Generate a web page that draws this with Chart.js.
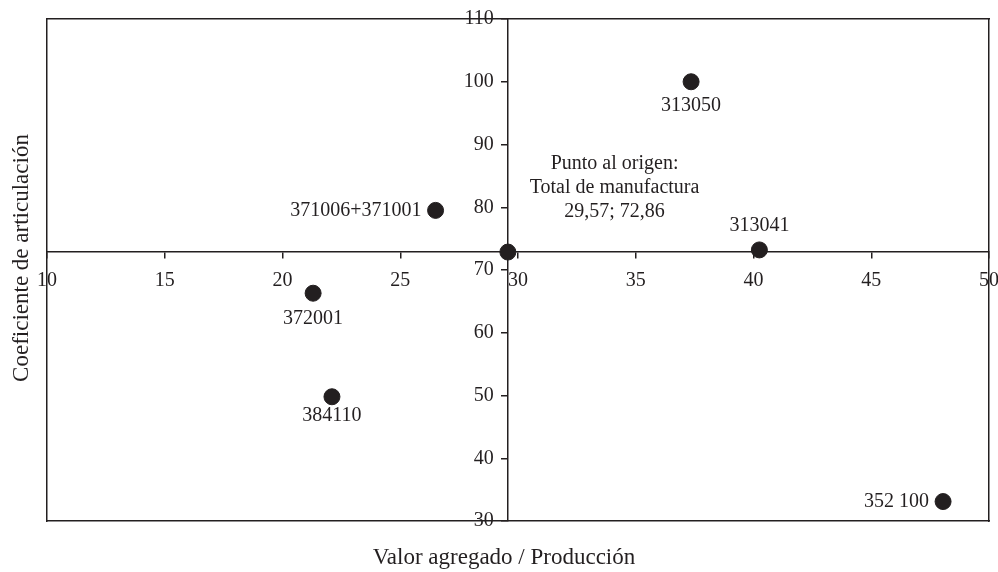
<!DOCTYPE html>
<html><head><meta charset="utf-8">
<script src="https://cdn.jsdelivr.net/npm/chart.js@4.4.0/dist/chart.umd.min.js"></script>
<style>html,body{margin:0;padding:0;background:#fff;}#wrap{width:998px;height:572px;position:relative;}</style>
</head><body><div id="wrap"><canvas id="c"></canvas></div>
<script>
// ---- data ----
const codes   = ['313050', '371006+371001', '313041', '372001', '384110', '352 100', ''];
const xValues = [37.35, 26.5, 40.25, 21.3, 22.1, 48.05, 29.57];
const yValues = [100, 79.5, 73.2, 66.3, 49.8, 33.1, 72.86];
const xTicks  = [10, 15, 20, 25, 30, 35, 40, 45, 50];
const yTicks  = [30, 40, 50, 60, 70, 80, 90, 100, 110];
const originX = 29.57;
const originY = 72.86;
const originNote = ['Punto al origen:', 'Total de manufactura', '29,57; 72,86'];
const noteAt = {x: 34.1, y: 83.1};
const xTitle = 'Valor agregado / Producción';
const yTitle = 'Coeficiente de articulación';
// label placement (style, not data)
const labelPlace = [['below', 24], ['left', 14], ['above', 24], ['below', 26], ['below', 19], ['left', 14], null];

const INK = '#231f20';
const FONT = '"Liberation Serif", "Times New Roman", serif';

const points = xValues.map((x, i) => ({x, y: yValues[i]}));

const labelPlugin = {
  id: 'labels',
  afterDatasetsDraw(chart) {
    const {ctx, scales: {x, y}, chartArea} = chart;
    ctx.save();
    ctx.fillStyle = INK;
    ctx.font = '20px ' + FONT;
    points.forEach((p, i) => {
      const pl = labelPlace[i];
      if (!pl || !codes[i]) return;
      const px = x.getPixelForValue(p.x), py = y.getPixelForValue(p.y);
      if (pl[0] === 'below') { ctx.textAlign = 'center'; ctx.textBaseline = 'middle'; ctx.fillText(codes[i], px, py + pl[1]); }
      else if (pl[0] === 'above') { ctx.textAlign = 'center'; ctx.textBaseline = 'middle'; ctx.fillText(codes[i], px, py - pl[1]); }
      else if (pl[0] === 'left') { ctx.textAlign = 'right'; ctx.textBaseline = 'middle'; ctx.fillText(codes[i], px - pl[1], py); }
    });
    // origin note
    const nx = x.getPixelForValue(noteAt.x), ny = y.getPixelForValue(noteAt.y);
    ctx.textAlign = 'center'; ctx.textBaseline = 'middle';
    originNote.forEach((t, k) => ctx.fillText(t, nx, ny + (k - 1) * 24));
    // axis titles
    ctx.font = '23px ' + FONT;
    ctx.fillText(xTitle, (chartArea.left + chartArea.right) / 2 - 14, 558);
    ctx.translate(22, (chartArea.top + chartArea.bottom) / 2 - 12);
    ctx.rotate(-Math.PI / 2);
    ctx.fillText(yTitle, 0, 0);
    ctx.restore();
  }
};

const dummy = (axis, position, size) => ({
  type: 'linear', axis, position,
  ticks: {display: false}, grid: {display: false},
  border: {display: true, color: INK, width: 1.5},
  afterFit(s) { if (axis === 'x') s.height = size; else s.width = size; s.paddingLeft = s.paddingRight = s.paddingTop = s.paddingBottom = 0; }
});

const shiftLabels = (dx) => function (s) {
  const orig = Object.getPrototypeOf(s)._computeLabelItems;
  s._computeLabelItems = function (ca) {
    const items = orig.call(this, ca);
    items.forEach(it => { it.options.translation[0] += dx; });
    return items;
  };
};

new Chart(document.getElementById('c'), {
  type: 'scatter',
  data: {datasets: [{
    data: points,
    backgroundColor: INK, borderColor: INK,
    pointRadius: 8, pointHoverRadius: 8
  }]},
  plugins: [labelPlugin],
  options: {
    responsive: true, maintainAspectRatio: false, animation: false,
    layout: {padding: 0},
    plugins: {legend: {display: false}, tooltip: {enabled: false}},
    scales: {
      x: {
        type: 'linear', min: xTicks[0], max: xTicks[xTicks.length - 1],
        position: {y: originY},
        afterBuildTicks(s) { s.ticks = xTicks.map(v => ({value: v})); },
        afterFit(s) { s.paddingLeft = 0; s.paddingRight = 0; },
        ticks: {color: INK, font: {family: FONT, size: 20}, padding: 11, maxRotation: 0, autoSkip: false},
        grid: {display: true, drawOnChartArea: false, drawTicks: true, tickLength: 6, color: INK, tickColor: INK, lineWidth: 1.5},
        border: {display: true, color: INK, width: 1.5}
      },
      y: {
        type: 'linear', min: yTicks[0], max: yTicks[yTicks.length - 1],
        position: {x: originX},
        afterBuildTicks(s) { s.ticks = yTicks.map(v => ({value: v})); },
        afterFit(s) { s.paddingTop = 0; s.paddingBottom = 0; },
        afterUpdate: shiftLabels(-14),
        ticks: {color: INK, font: {family: FONT, size: 20}, padding: 8, autoSkip: false},
        grid: {display: true, drawOnChartArea: false, drawTicks: true, tickLength: 6, color: INK, tickColor: INK, lineWidth: 1.5},
        border: {display: true, color: INK, width: 1.5}
      },
      xTop: dummy('x', 'top', 19),
      xBot: dummy('x', 'bottom', 51),
      yLeft: dummy('y', 'left', 47),
      yRight: dummy('y', 'right', 8)
    }
  }
});
</script>
</body></html>
